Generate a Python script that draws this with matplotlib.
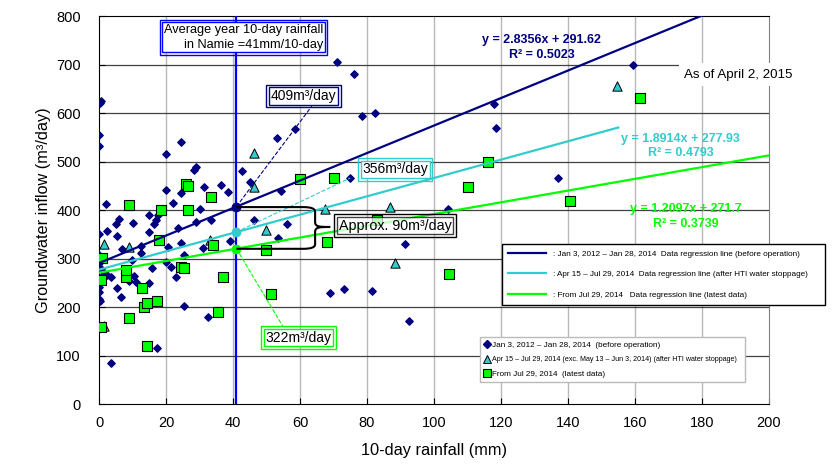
import matplotlib
matplotlib.use("Agg")
import matplotlib.pyplot as plt
from matplotlib.lines import Line2D
from matplotlib.path import Path
from matplotlib.patches import PathPatch

plt.rcParams['font.family'] = ['Liberation Sans', 'DejaVu Sans']

# before operation (Jan 3, 2012 - Jan 28, 2014)
before_x = [0.3, 0.6, 0, 0, 71, 76, 78.4, 82.4, 118, 118.5, 159.5, 137, 75,
            24.4, 20, 53, 58.5, 29, 28.4, 42.6, 45, 20, 24.4, 31.4, 36.4, 38.4, 54.3,
            2, 22, 30, 6, 5, 10, 15, 17.5, 16.9, 16.4, 29, 33.4, 23.5, 46.4, 56,
            0, 2.5, 5.5, 15, 20.5, 24.5, 39, 31, 7, 12.4, 12.4, 25.5, 53.3, 9.9,
            0, 0, 0, 0, 0.5, 0, 0, 0, 0.3, 2.5, 3.5, 5.5, 6.5, 10.4, 10.9, 8.9,
            14.9, 15.9, 19.9, 21.5, 22.9, 25.5, 32.4, 17.4, 3.5, 1.5,
            69, 73, 81.4, 92.5, 91.3, 104.3]
before_y = [622, 626, 556, 533, 707, 681, 595, 602, 619, 571, 700, 468, 466,
            542, 516, 549, 567, 490, 483, 482, 459, 442, 437, 449, 452, 439, 441,
            413, 416, 404, 382, 372, 374, 390, 391, 381, 373, 377, 380, 363, 380, 372,
            351, 358, 347, 355, 325, 334, 337, 323, 321, 326, 313, 308, 344, 298,
            308, 298, 291, 284, 280, 243, 231, 217, 214, 267, 262, 241, 222, 264, 252, 255,
            250, 282, 294, 284, 262, 203, 181, 117, 85, 270,
            229, 238, 233, 173, 330, 404]

# Apr 15 - Jul 29, 2014 (after HTI water stoppage)
hti_x = [1.5, 9, 1.5, 33, 46.3, 46.3, 49.9, 67.5, 86.9, 88.4, 154.5]
hti_y = [331, 325, 161, 340, 518, 449, 360, 404, 408, 291, 657]

# From Jul 29, 2014 (latest data)
latest_x = [0.5, 0.5, 1, 8, 8, 9, 9, 12.9, 13.4, 14.4, 14.4, 17.4, 17.9, 18.4,
            24.4, 25.5, 26, 26.5, 26.5, 33.4, 33.9, 35.4, 36.9, 49.9, 51.3, 60,
            68, 70, 82.9, 104.5, 110, 116, 140.6, 161.5]
latest_y = [160, 257, 303, 262, 277, 178, 411, 240, 200, 210, 121, 213, 339, 400,
            283, 282, 455, 450, 400, 427, 328, 190, 262, 319, 228, 465,
            336, 466, 380, 270, 448, 499, 420, 631]

# regression lines: slope, intercept, x end
fits = [(2.8356, 291.62, 200), (1.8914, 277.93, 155), (1.2097, 271.7, 200)]
avg_rain = 41

navy = '#000080'
cyan = '#33CCCC'
green = '#00FF00'
cols = [navy, cyan, green]

fig = plt.figure(figsize=(8.35, 4.66), dpi=100)
ax = fig.add_axes([0.1186, 0.132, 0.8024, 0.8326])

ax.set_xlim(0, 200)
ax.set_ylim(0, 800)
ax.set_xticks(range(0, 201, 20))
ax.set_yticks(range(0, 801, 100))
ax.tick_params(direction='in', length=4, labelsize=10.5)
ax.tick_params(axis='x', pad=8)
ax.tick_params(axis='y', pad=13)
for v in range(20, 200, 20):
    ax.axvline(v, color='#B8B8B8', lw=1, zorder=0)
for v in range(100, 800, 100):
    ax.axhline(v, color='#404040', lw=0.9, zorder=0)
for s in ['left', 'bottom', 'top']:
    ax.spines[s].set_color('black')
ax.spines['right'].set_color('#808080')

ax.set_xlabel('10-day rainfall (mm)', fontsize=11.8, labelpad=10)
ax.set_ylabel('Groundwater inflow (m³/day)', fontsize=11.7, labelpad=4)

ax.scatter(before_x, before_y, marker='D', s=14, color=navy, zorder=3)
ax.scatter(hti_x, hti_y, marker='^', s=45, color=cyan, edgecolors='black', linewidths=0.7, zorder=3)
ax.scatter(latest_x, latest_y, marker='s', s=55, color=green, edgecolors='black', linewidths=0.8, zorder=4)

for (a, b, xe), c in zip(fits, cols):
    ax.plot([0, xe], [b, a * xe + b], color=c, lw=1.6, zorder=5)

ax.axvline(avg_rain, color='#0000FF', lw=1.6, zorder=5)
vals = [a * avg_rain + b for a, b, _ in fits]
for v, c in zip(vals, cols):
    ax.plot(avg_rain, v, 'o', color=c, ms=6, zorder=6)

# dashed leaders to value boxes
ax.plot([avg_rain, 63.5], [vals[0], 615], ls='--', color=navy, lw=0.8, zorder=5)
ax.plot([avg_rain, 75], [vals[1], 467], ls='--', color=cyan, lw=0.8, zorder=5)
ax.plot([avg_rain, 54.8], [vals[2], 162], ls='--', color=green, lw=0.8, zorder=5)

# brace
verts = [(avg_rain, 407), (61, 407), (64.5, 407), (64.5, 398), (64.5, 376),
         (64.5, 366), (66, 366), (69, 366),
         (66, 366), (64.5, 366), (64.5, 356),
         (64.5, 330), (64.5, 321), (61, 321), (avg_rain, 321)]
codes = [Path.MOVETO, Path.LINETO, Path.CURVE3, Path.CURVE3, Path.LINETO,
         Path.CURVE4, Path.CURVE4, Path.CURVE4,
         Path.CURVE4, Path.CURVE4, Path.CURVE4,
         Path.LINETO, Path.CURVE3, Path.CURVE3, Path.LINETO]
ax.add_patch(PathPatch(Path(verts, codes), fill=False, lw=1.5, ec='black', zorder=6))


def boxed(x, y, s, ec, fs=10, alpha=1, **kw):
    ax.text(x, y, s, fontsize=fs, ha='center', va='center', zorder=8,
            bbox=dict(boxstyle='square,pad=0.12', fc='white', ec=ec, lw=1, alpha=alpha), **kw)
    ax.text(x, y, s, fontsize=fs, ha='center', va='center', zorder=8, color='none',
            bbox=dict(boxstyle='square,pad=0.32', fc='none', ec=ec, lw=1), **kw)


boxed(43.1, 757, 'Average year 10-day rainfall\nin Namie =41mm/10-day', '#0000FF', fs=9.2,
      multialignment='right', linespacing=1.35)
boxed(61, 636, '409m³/day', navy)
boxed(88.4, 485, '356m³/day', cyan)
boxed(59.5, 138, '322m³/day', green)
boxed(88.4, 369, 'Approx. 90m³/day', 'black', fs=10.3, alpha=0.75)

ax.text(132.2, 736, 'y = 2.8356x + 291.62\nR² = 0.5023', color=navy, fontsize=9,
        fontweight='bold', ha='center', va='center', linespacing=1.3, zorder=7)
ax.text(173.7, 533, 'y = 1.8914x + 277.93\nR² = 0.4793', color=cyan, fontsize=9,
        fontweight='bold', ha='center', va='center', linespacing=1.3, zorder=7)
ax.text(175.2, 388, 'y = 1.2097x + 271.7\nR² = 0.3739', color=green, fontsize=9,
        fontweight='bold', ha='center', va='center', linespacing=1.3, zorder=7)

fig.text(0.819, 0.84, 'As of April 2, 2015', fontsize=9.6, ha='left', va='center',
         bbox=dict(boxstyle='square,pad=0.4', fc='white', ec='none'))

line_handles = [Line2D([], [], color=c, lw=1.6) for c in cols]
line_labels = [': Jan 3, 2012 – Jan 28, 2014  Data regression line (before operation)      ',
               ': Apr 15 – Jul 29, 2014  Data regression line (after HTI water stoppage)     ',
               ': From Jul 29, 2014   Data regression line (latest data)']
leg1 = ax.legend(line_handles, line_labels, loc='upper left', bbox_to_anchor=(0.601, 0.4764),
                 bbox_transform=fig.transFigure, fontsize=5.9, frameon=True, fancybox=False,
                 edgecolor='black', framealpha=1, handlelength=4.6, handletextpad=0.9,
                 labelspacing=1.55, borderpad=0.75, borderaxespad=0)
leg1.get_frame().set_linewidth(1)
leg1.set_zorder(9)

pt_handles = [Line2D([], [], ls='none', marker='D', ms=4, color=navy),
              Line2D([], [], ls='none', marker='^', ms=6, mfc=cyan, mec='black', mew=0.7),
              Line2D([], [], ls='none', marker='s', ms=6, mfc=green, mec='black', mew=0.8)]
pt_labels = ['Jan 3, 2012 – Jan 28, 2014  (before operation)',
             'Apr 15 – Jul 29, 2014 (exc. May 13 – Jun 3, 2014) (after HTI water stoppage)  ',
             'From Jul 29, 2014  (latest data)']
leg2 = ax.legend(pt_handles, pt_labels, loc='upper left', bbox_to_anchor=(0.575, 0.277),
                 bbox_transform=fig.transFigure, fontsize=5.9, frameon=True, fancybox=False,
                 edgecolor='#BBBBBB', framealpha=1, handlelength=0.8, handletextpad=0.2,
                 labelspacing=0.85, borderpad=0.5, borderaxespad=0)
leg2.get_texts()[1].set_fontsize(5.1)
leg2.get_frame().set_linewidth(1)
leg2.set_zorder(9)
ax.add_artist(leg1)

fig.savefig('out.png', dpi=100)
